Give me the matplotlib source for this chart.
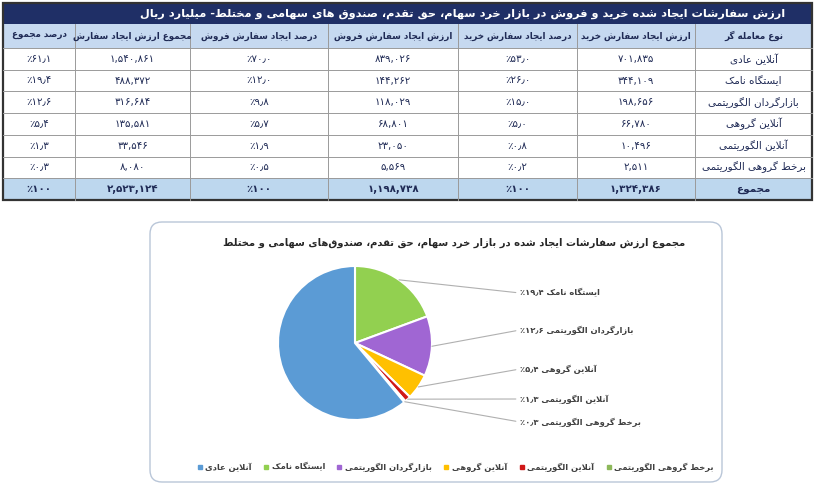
import matplotlib
matplotlib.use("Agg")
import numpy as np
import matplotlib.pyplot as plt
from matplotlib import font_manager as fm
from matplotlib.ft2font import FT2Font
from matplotlib.patches import Rectangle, FancyBboxPatch
from matplotlib.lines import Line2D

W, H = 815, 487

# ---- data ----
table_title = "ارزش سفارشات ایجاد شده خرید و فروش در بازار خرد سهام، حق تقدم، صندوق های سهامی و مختلط- میلیارد ریال"
headers = ["نوع معامله گر", "ارزش ایجاد سفارش خرید", "درصد ایجاد سفارش خرید",
           "ارزش ایجاد سفارش فروش", "درصد ایجاد سفارش فروش",
           "مجموع ارزش ایجاد سفارش", "درصد مجموع"]
traders = ["آنلاین عادی", "ایستگاه نامک", "بازارگردان الگوریتمی",
           "آنلاین گروهی", "آنلاین الگوریتمی", "برخط گروهی الگوریتمی"]
total_label = "مجموع"
buy_value = [701835, 344109, 198656, 66780, 10496, 2511]
buy_pct = [53.0, 26.0, 15.0, 5.0, 0.8, 0.2]
sell_value = [839026, 144262, 118029, 68801, 23050, 5569]
sell_pct = [70.0, 12.0, 9.8, 5.7, 1.9, 0.5]
sum_value = [1540861, 488372, 316684, 135581, 33546, 8080]
sum_pct = [61.1, 19.4, 12.6, 5.4, 1.3, 0.3]
totals = [1324386, 100, 1198738, 100, 2523124, 100]

pie_title = "مجموع ارزش سفارشات ایجاد شده در بازار خرد سهام، حق تقدم، صندوق\u200cهای سهامی و مختلط"
pie_colors = ["#5B9BD5", "#92D050", "#A066D3", "#FFC000", "#D01818", "#8DB85A"]

# ---- simple persian shaping (matplotlib has no RTL support) ----
_F = {}
_seq = [('ا', 2), ('ب', 4), ('ة', 2), ('ت', 4), ('ث', 4), ('ج', 4), ('ح', 4), ('خ', 4),
        ('د', 2), ('ذ', 2), ('ر', 2), ('ز', 2), ('س', 4), ('ش', 4), ('ص', 4), ('ض', 4),
        ('ط', 4), ('ظ', 4), ('ع', 4), ('غ', 4), ('ف', 4), ('ق', 4), ('ك', 4), ('ل', 4),
        ('م', 4), ('ن', 4), ('ه', 4), ('و', 2), ('ى', 2), ('ي', 4)]
cp = 0xFE8D
for ch, k in _seq:
    _F[ch] = tuple(range(cp, cp + k))
    cp += k
_F['آ'] = (0xFE81, 0xFE82)
_F['پ'] = (0xFB56, 0xFB57, 0xFB58, 0xFB59)
_F['چ'] = (0xFB7A, 0xFB7B, 0xFB7C, 0xFB7D)
_F['ژ'] = (0xFB8A, 0xFB8B)
_F['ک'] = (0xFB8E, 0xFB8F, 0xFB90, 0xFB91)
_F['گ'] = (0xFB92, 0xFB93, 0xFB94, 0xFB95)
_F['ی'] = (0xFBFC, 0xFBFD, 0xFBFE, 0xFBFF)
_LIG = {'ا': (0xFEFB, 0xFEFC), 'آ': (0xFEF5, 0xFEF6)}


def shape(s):
    out = []
    i, n = 0, len(s)
    while i < n:
        c = s[i]
        if c not in _F:
            if c != '\u200c':
                out.append(c)
            i += 1
            continue
        prev = s[i - 1] if i > 0 else ''
        pj = prev in _F and len(_F[prev]) == 4
        if c == 'ل' and i + 1 < n and s[i + 1] in _LIG:
            lig = _LIG[s[i + 1]]
            out.append(chr(lig[1] if pj else lig[0]))
            i += 2
            continue
        nxt = s[i + 1] if i + 1 < n else ''
        f = _F[c]
        nj = len(f) == 4 and nxt in _F
        if pj and nj:
            g = f[3]
        elif pj:
            g = f[1]
        elif nj:
            g = f[2]
        else:
            g = f[0]
        out.append(chr(g))
        i += 1
    return ''.join(out)


def fa(s):
    return shape(s)[::-1]


# ---- fonts with arabic presentation forms ----
probe = [0xFB92, 0xFBFE, 0xFEFB, 0xFE8D, 0x06F1]


def covers(path):
    try:
        cmap = FT2Font(path).get_charmap()
    except Exception:
        return False
    return all(c in cmap for c in probe)


reg = bold = None
for fe in sorted(fm.fontManager.ttflist, key=lambda f: f.name != 'DejaVu Sans'):
    if fe.style != 'normal' or fe.stretch != 'normal':
        continue
    w = fe.weight if isinstance(fe.weight, int) else (700 if 'bold' in str(fe.weight) else 400)
    if w >= 600 and bold is None and covers(fe.fname):
        bold = fe.fname
    if w < 600 and reg is None and covers(fe.fname):
        reg = fe.fname
if reg is None:
    reg = fm.findfont('DejaVu Sans')
if bold is None:
    bold = reg

cmap_reg = FT2Font(reg).get_charmap()
PCT = '٪' if 0x066A in cmap_reg else '%'


def fp(size, b=False):
    return fm.FontProperties(fname=bold if b else reg, size=size)


def fnum(v, dec=None):
    s = f"{v:,.{dec}f}" if dec is not None else f"{v:,}"
    tr = {',': ',', '.': '٫'}
    return ''.join(chr(0x06F0 + int(c)) if c.isdigit() else tr.get(c, c) for c in s)


def fpct(v, dec=1):
    return PCT + fnum(v, dec)


# ---- figure ----
fig = plt.figure(figsize=(W / 100, H / 100), dpi=100)
bg = fig.add_axes([0, 0, 1, 1])
bg.set_xlim(0, W)
bg.set_ylim(H, 0)
bg.axis('off')

navy = "#1F2F66"
txt = "#1F2A55"
x_edges = [3, 75, 190, 328, 458, 577, 695, 812]
y_title = (3, 24)
y_head = (24, 48)
row_h = 21.7

bg.add_patch(Rectangle((x_edges[0], y_title[0]), x_edges[-1] - x_edges[0], y_title[1] - y_title[0],
                       fc=navy, ec='none'))
bg.text(463, sum(y_title) / 2, fa(table_title), color='white', ha='center', va='center',
        fontproperties=fp(8.2, True))
bg.add_patch(Rectangle((x_edges[0], y_head[0]), x_edges[-1] - x_edges[0], y_head[1] - y_head[0],
                       fc="#C6D9F0", ec='none'))
tot_top = y_head[1] + row_h * len(traders)
bg.add_patch(Rectangle((x_edges[0], tot_top), x_edges[-1] - x_edges[0], row_h,
                       fc="#BDD7EE", ec='none'))


def col_center(j):
    return (x_edges[6 - j] + x_edges[7 - j]) / 2


for j, h in enumerate(headers):
    bg.text(col_center(j), sum(y_head) / 2, fa(h), color=txt, ha='center', va='center',
            fontproperties=fp(6.3, True))

rows = []
for k in range(len(traders)):
    rows.append([fa(traders[k]), fnum(buy_value[k]), fpct(buy_pct[k]), fnum(sell_value[k]),
                 fpct(sell_pct[k]), fnum(sum_value[k]), fpct(sum_pct[k])])
rows.append([fa(total_label), fnum(totals[0]), fpct(totals[1], 0), fnum(totals[2]),
             fpct(totals[3], 0), fnum(totals[4]), fpct(totals[5], 0)])

for k, r in enumerate(rows):
    yc = y_head[1] + row_h * (k + 0.5)
    is_tot = k == len(rows) - 1
    for j, cell in enumerate(r):
        bg.text(col_center(j), yc, cell, color=txt, ha='center', va='center',
                fontproperties=fp(7.5 if j == 0 else 7.4, is_tot))

# grid lines
y_bot = tot_top + row_h
for k in range(len(rows)):
    y = y_head[1] + row_h * k
    bg.plot([x_edges[0], x_edges[-1]], [y, y], color='#9A9A9A', lw=0.7)
for x in x_edges[1:-1]:
    bg.plot([x, x], [y_head[0], y_bot], color='#9A9A9A', lw=0.7)
bg.add_patch(Rectangle((x_edges[0], y_title[0]), x_edges[-1] - x_edges[0], y_bot - y_title[0],
                       fc='none', ec='#333333', lw=1.6))

# ---- pie chart box ----
bg.add_patch(FancyBboxPatch((150, 222), 572, 260, boxstyle='round,pad=0,rounding_size=12',
                            fc='white', ec='#B9C6D8', lw=1.0))
bg.text(454, 243, fa(pie_title), color='#262626', ha='center', va='center',
        fontproperties=fp(7.2, True))

cx, cy, rad = 355, 343, 77
ax = fig.add_axes([(cx - rad) / W, 1 - (cy + rad) / H, 2 * rad / W, 2 * rad / H])
order = [1, 2, 3, 4, 5, 0]
wedges, _ = ax.pie([sum_pct[i] for i in order], colors=[pie_colors[i] for i in order],
                   startangle=90, counterclock=False,
                   wedgeprops=dict(edgecolor='white', linewidth=1.5))
ax.set_xlim(-1, 1)
ax.set_ylim(-1, 1)
ax.axis('off')

label_y = [293, 330, 369, 399, 422]
for w, i, ly in zip(wedges[:5], order[:5], label_y):
    th = np.deg2rad((w.theta1 + w.theta2) / 2)
    ax.annotate(fpct(sum_pct[i]) + ' ' + fa(traders[i]), xy=(np.cos(th), np.sin(th)),
                xytext=(520 / W, 1 - ly / H), textcoords='figure fraction',
                ha='left', va='center', color='#404040', fontproperties=fp(6.0, True),
                arrowprops=dict(arrowstyle='-', color='#B0B0B0', lw=0.8, relpos=(0, 0.5),
                                shrinkA=1, shrinkB=0),
                annotation_clip=False)
bg.text(330, 368, fpct(sum_pct[0]) + ' ' + fa(traders[0]), color=txt, ha='center', va='center',
        fontproperties=fp(6.8, True))

handles = [Line2D([], [], marker='s', ls='', color=pie_colors[i], markersize=3.5) for i in range(6)]
fig.legend(handles, [fa(t) for t in traders], loc='center', bbox_to_anchor=(455 / W, 1 - 467 / H),
           ncol=6, frameon=False, prop=fp(6.0, True), labelcolor='#404040',
           handletextpad=0.3, columnspacing=1.3, handlelength=0.8)

fig.savefig('out.png', dpi=100)
